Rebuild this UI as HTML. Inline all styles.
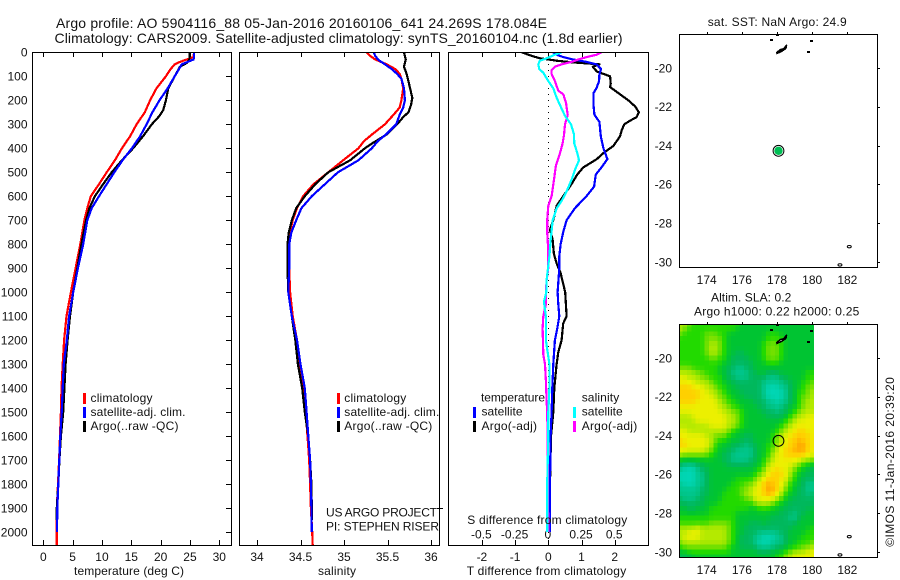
<!DOCTYPE html>
<html lang="en">
<head>
<meta charset="utf-8">
<title>Argo profile 5904116_88</title>
<style>
html,body{margin:0;padding:0;background:#fff;}
svg{display:block;}
text{font-family:"Liberation Sans",sans-serif;font-size:12px;fill:#111;}
.t{font-size:14px;}
</style>
</head>
<body>
<svg id="fig" xmlns="http://www.w3.org/2000/svg" width="900" height="580" viewBox="0 0 900 580">
<defs>
<clipPath id="clip-t"><rect x="32" y="52" width="200" height="494"/></clipPath>
<clipPath id="clip-s"><rect x="239" y="52" width="201" height="494"/></clipPath>
<clipPath id="clip-d"><rect x="448" y="52" width="201" height="494"/></clipPath>
<clipPath id="clip-m"><rect x="679" y="324" width="135" height="233"/></clipPath>
</defs>
<text class="t" x="56" y="28" textLength="491" lengthAdjust="spacing">Argo profile: AO 5904116_88 05-Jan-2016 20160106_641 24.269S 178.084E</text>
<text class="t" x="54.5" y="43" textLength="568" lengthAdjust="spacing">Climatology: CARS2009. Satellite-adjusted climatology: synTS_20160104.nc (1.8d earlier)</text>
<g id="plots"></g>

<text x="74" y="575" textLength="110" lengthAdjust="spacing">temperature (deg C)</text>
<text x="318" y="575" textLength="38" lengthAdjust="spacing">salinity</text>
<text x="466.7" y="575" textLength="159.5" lengthAdjust="spacing">T difference from climatology</text>
<text x="467.3" y="524" textLength="160" lengthAdjust="spacing">S difference from climatology</text>

<g>
<rect x="83" y="393" width="3" height="11" fill="#f00"/>
<rect x="83" y="407" width="3" height="11" fill="#00f"/>
<rect x="83" y="421" width="3" height="11" fill="#000"/>
<text x="90.5" y="402" textLength="62" lengthAdjust="spacing">climatology</text>
<text x="90.5" y="416" textLength="95" lengthAdjust="spacing">satellite-adj. clim.</text>
<text x="90.5" y="430" textLength="88" lengthAdjust="spacing">Argo(..raw -QC)</text>
</g>
<g>
<rect x="337" y="393" width="3" height="11" fill="#f00"/>
<rect x="337" y="407" width="3" height="11" fill="#00f"/>
<rect x="337" y="421" width="3" height="11" fill="#000"/>
<text x="344.3" y="402" textLength="62" lengthAdjust="spacing">climatology</text>
<text x="344.3" y="416" textLength="95" lengthAdjust="spacing">satellite-adj. clim.</text>
<text x="344.3" y="430" textLength="88" lengthAdjust="spacing">Argo(..raw -QC)</text>
</g>
<text x="326" y="516.5" textLength="111" lengthAdjust="spacing">US ARGO PROJECT</text>
<line x1="437" y1="508.5" x2="443" y2="508.5" stroke="#000" stroke-width="1" shape-rendering="crispEdges"/>
<text x="326" y="530.5" textLength="113" lengthAdjust="spacing">PI: STEPHEN RISER</text>

<g>
<text x="481" y="401.7" textLength="64" lengthAdjust="spacing">temperature</text>
<rect x="473" y="407" width="3" height="11" fill="#00f"/>
<text x="481.5" y="415.7" textLength="41" lengthAdjust="spacing">satellite</text>
<rect x="473" y="421" width="3" height="11" fill="#000"/>
<text x="481.5" y="430" textLength="55.5" lengthAdjust="spacing">Argo(-adj)</text>
<text x="581.7" y="401.7" textLength="37.5" lengthAdjust="spacing">salinity</text>
<rect x="573" y="407" width="3" height="11" fill="#0ff"/>
<text x="581.7" y="415.7" textLength="41" lengthAdjust="spacing">satellite</text>
<rect x="573" y="421" width="3" height="11" fill="#f0f"/>
<text x="581.7" y="430" textLength="55.5" lengthAdjust="spacing">Argo(-adj)</text>
</g>

<text x="707.7" y="26" textLength="139" lengthAdjust="spacing">sat. SST: NaN Argo: 24.9</text>
<text x="711" y="301.7" textLength="80.3" lengthAdjust="spacing">Altim. SLA: 0.2</text>
<text x="694" y="315.7" textLength="165.3" lengthAdjust="spacing">Argo h1000: 0.22 h2000: 0.25</text>
<text transform="translate(894,546.7) rotate(-90)" textLength="169.5" lengthAdjust="spacing">©IMOS 11-Jan-2016 20:39:20</text>
</svg>

<script>
// ---------- chart data ----------
const depthTicks = [0,100,200,300,400,500,600,700,800,900,1000,1100,1200,1300,1400,1500,1600,1700,1800,1900,2000];
const tempTicks = [0,5,10,15,20,25,30];
const salTicks = [34,34.5,35,35.5,36];
const salTickLabels = ['34','34.5','35','35.5','36'];
const tDiffTicks = [-2,-1,0,1,2];
const sDiffTicks = [-0.5,-0.25,0,0.25,0.5];
const sDiffTickLabels = ['-0.5','-0.25','0','0.25','0.5'];
const lonTicks = [174,176,178,180,182];
const latTicks = [-20,-22,-24,-26,-28,-30];

const tempClimDepth = [0,20,40,50,70,100,150,200,250,300,350,400,450,500,550,600,650,700,800,900,1000,1100,1200,1300,1400,1500,1600,1700,1800,1900,2000,2055];
const tempClim = [25.7,25.6,23.3,22.4,21.7,20.9,19.3,18.2,17.3,15.9,14.8,13.4,12.2,10.8,9.5,8.1,7.5,7.0,6.3,5.5,4.7,3.95,3.55,3.3,3.1,3.0,2.85,2.7,2.5,2.3,2.3,2.3];
const tempSatDepth = [0,20,30,50,100,150,200,250,300,350,400,450,500,550,600,650,700,800,900,1000,1100,1200,1300,1400,1500,1600,1700,1800,1900,2000];
const tempSat = [25.7,25.7,25.6,23.6,22.4,21.2,19.8,18.6,17.6,16.5,15.1,13.5,12.1,10.8,9.5,8.25,7.5,6.8,5.9,5.1,4.4,4.0,3.5,3.3,3.13,2.9,2.73,2.56,2.39,2.33];
const tempArgoDepth = [0,30,45,60,100,150,200,240,265,300,350,400,450,500,550,600,650,700,800,900,1000,1100,1200,1300,1400,1500,1600,1700,1800,1900,1950];
const tempArgo = [24.9,24.9,24.4,23.3,22.4,21.3,20.9,20.45,19.8,18.5,17.0,15.3,13.4,11.65,10.2,8.8,7.85,7.3,6.5,5.8,5.1,4.55,4.15,3.8,3.6,3.4,3.0,2.75,2.55,2.3,2.3];

const salClimDepth = [0,15,30,50,70,90,110,150,200,230,260,300,340,370,400,450,500,550,600,650,700,750,800,900,1000,1100,1200,1300,1400,1500,1600,1700,1800,1900,2000,2055];
const salClim = [35.26,35.3,35.36,35.49,35.59,35.64,35.66,35.68,35.66,35.64,35.57,35.47,35.33,35.23,35.165,34.99,34.82,34.65,34.53,34.46,34.41,34.38,34.36,34.37,34.38,34.41,34.46,34.49,34.53,34.56,34.58,34.6,34.61,34.62,34.635,34.64];
const salSatDepth = [0,15,30,50,70,90,110,150,200,230,260,300,340,370,400,450,500,550,600,650,700,750,800,900,1000,1100,1200,1300,1400,1500,1600,1700,1800,1900,2000];
const salSat = [35.34,35.36,35.39,35.47,35.55,35.61,35.66,35.69,35.7,35.68,35.64,35.6,35.49,35.39,35.32,35.165,34.93,34.78,34.63,34.51,34.45,34.395,34.37,34.37,34.36,34.4,34.46,34.5,34.55,34.57,34.59,34.61,34.62,34.625,34.63];
const salArgoDepth = [0,15,30,60,90,120,150,190,220,250,270,300,340,385,400,450,500,550,600,650,700,750,800,900,1000,1100,1200,1300,1400,1500,1600,1700,1800,1900,1950];
const salArgo = [35.69,35.7,35.71,35.69,35.72,35.74,35.76,35.785,35.77,35.74,35.68,35.61,35.5,35.3,35.24,35.07,34.82,34.67,34.55,34.45,34.4,34.365,34.35,34.35,34.36,34.4,34.44,34.47,34.52,34.55,34.59,34.61,34.625,34.63,34.63];

const tDiffSatDepth = [0,10,20,30,40,50,70,90,120,150,170,220,260,290,350,400,445,480,510,560,600,650,700,750,800,850,900,1000,1050,1100,1150,1200,1300,1400,1500,1600,1800,2000];
const tDiffSat = [0.15,0.25,0.45,0.75,1.15,1.45,1.59,1.54,1.53,1.45,1.36,1.36,1.39,1.54,1.58,1.66,1.78,1.6,1.43,1.38,1.15,0.8,0.55,0.45,0.37,0.33,0.33,0.28,0.3,0.33,0.27,0.2,0.15,0.12,0.1,0.07,0.05,0.05];
const tDiffArgoDepth = [0,5,15,25,35,42,50,60,80,100,130,145,170,200,225,250,270,285,300,325,350,390,420,445,480,510,550,600,640,690,740,780,840,880,920,1000,1050,1100,1130,1200,1250,1300,1400,1500,1600,1800,1950];
const tDiffArgo = [-0.8,-0.7,-0.5,-0.25,0.25,0.75,1.54,1.34,1.46,1.86,1.88,1.86,2.11,2.41,2.61,2.73,2.66,2.46,2.29,2.21,2.16,1.96,1.66,1.46,1.05,0.87,0.7,0.45,0.25,0.17,0.05,0.13,0.17,0.25,0.37,0.51,0.53,0.55,0.45,0.4,0.3,0.25,0.18,0.15,0.08,0.05,0.03];
const sDiffSatDepth = [0,10,25,35,50,70,85,120,150,190,220,265,300,340,380,420,450,490,530,580,620,650,700,780,850,950,1000,1040,1100,1200,1300,1400,1500,1600,1800,2000];
const sDiffSat = [0.1,0.05,-0.013,-0.063,-0.075,-0.068,-0.038,0,0.038,0.063,0.088,0.126,0.171,0.193,0.196,0.218,0.231,0.2,0.176,0.138,0.1,0.063,0.033,0.018,0.008,-0.013,-0.015,-0.033,-0.018,-0.018,0.008,0.008,0,0,-0.008,-0.008];
const sDiffArgoDepth = [0,10,20,30,40,50,60,75,90,120,160,175,210,260,300,345,380,420,470,530,600,640,700,750,830,900,950,1000,1050,1100,1150,1260,1300,1370,1450,1500,1600,2000];
const sDiffArgo = [0.4,0.364,0.289,0.226,0.176,0.1,0.05,0.025,0.025,0.05,0.075,0.113,0.133,0.146,0.126,0.118,0.108,0.088,0.058,0.043,0.025,0,-0.008,-0.008,0,0,-0.013,-0.018,-0.018,-0.038,-0.043,-0.038,-0.025,-0.018,-0.013,-0.008,-0.005,0];

const argoLon = 178.084;
const argoLat = -24.269;
const fijiLon = [177.98,178.2,178.4,178.55,178.5,178.25,178.0];
const fijiLat = [-19.2,-19.05,-19.0,-18.8,-19.0,-19.15,-19.25];
const islandLon = [177.64,177.98,179.92,179.75];
const islandLat = [-18.56,-18.3,-18.59,-19.16];
const atollLon = [182.11,181.58];
const atollLat = [-29.21,-30.15];

const slaLevelColors = ['#00d6b4','#00c68c','#00b85c','#00c432','#22da00','#72e000','#b4ea00','#ecf000','#ffd000','#ffa400'];
const slaStartLon = 172.5;
const slaStartLat = -18.25;
const slaStep = 0.25;
const slaGrid = [
[6,6,5,4,4,4,4,4,4,4,4,4,4,4,3,3,3,3,3,3,3,3,3,3,3,3,3,3,3,3,3],
[6,5,4,4,4,4,4,4,4,4,4,4,4,3,3,3,3,3,3,3,3,3,3,3,3,3,3,3,3,3,3],
[5,4,4,4,4,4,5,5,5,4,4,3,3,3,3,3,3,3,3,3,4,4,4,3,3,3,3,3,3,3,3],
[4,4,4,4,4,4,5,5,5,5,4,3,3,3,3,3,3,3,3,3,4,4,4,4,3,3,3,3,3,3,3],
[4,4,4,4,4,4,5,6,6,5,4,3,3,3,3,3,3,3,3,4,5,5,5,4,3,3,3,3,3,3,3],
[4,4,4,4,4,4,5,6,6,5,4,3,3,3,3,3,3,3,3,4,5,5,5,4,3,3,3,3,3,3,3],
[4,4,4,4,4,4,5,6,6,5,4,3,3,2,2,3,3,3,3,4,5,5,5,4,3,3,3,3,3,3,3],
[4,4,4,4,4,4,4,5,5,4,4,3,2,2,2,2,3,3,3,4,5,5,5,4,3,3,3,3,3,3,3],
[4,4,4,4,4,4,4,4,4,4,3,3,2,2,2,2,2,3,3,3,4,4,4,3,3,3,3,3,3,3,3],
[5,5,5,4,4,4,4,4,4,3,3,2,2,1,1,2,2,3,3,3,3,3,3,3,3,3,3,3,3,3,3],
[6,6,6,6,5,5,4,4,4,3,3,2,1,1,1,1,2,2,3,3,2,2,2,3,3,3,3,3,3,4,4],
[7,7,6,6,6,5,5,4,4,4,3,2,2,1,1,1,2,2,2,2,1,1,1,2,2,3,3,3,3,4,4],
[7,7,7,7,6,6,6,5,4,4,3,3,2,2,2,2,2,2,2,1,1,1,1,1,2,2,3,3,4,4,5],
[8,8,8,7,7,7,6,6,5,4,4,3,3,2,2,2,2,2,2,1,0,0,0,1,1,2,3,3,4,5,5],
[8,8,8,8,8,7,7,6,6,5,4,3,3,3,2,2,2,2,2,1,0,0,0,0,1,2,3,4,4,5,6],
[8,8,8,8,8,7,7,7,6,5,5,4,3,3,3,2,2,2,2,1,0,0,0,0,1,2,3,4,5,5,6],
[8,8,8,8,7,7,7,7,7,6,5,4,4,3,3,3,3,2,2,2,1,1,0,1,1,2,3,4,5,6,6],
[7,7,7,7,7,7,7,7,7,6,6,5,4,4,3,3,3,3,2,2,1,1,1,1,2,3,3,4,5,6,6],
[7,7,7,7,7,7,7,7,7,7,6,6,5,5,4,3,3,3,3,2,2,2,1,2,2,3,4,5,6,6,6],
[6,6,6,7,7,7,7,7,7,7,7,6,6,5,4,3,3,3,3,3,2,2,2,2,3,4,5,6,6,7,7],
[6,6,6,6,7,7,7,7,7,7,7,6,6,5,4,3,3,3,3,3,3,3,3,3,4,5,6,7,7,7,7],
[6,6,6,6,6,6,6,7,7,7,7,6,6,5,4,3,3,3,3,3,3,3,3,4,5,6,7,7,7,7,7],
[7,7,6,6,6,6,6,6,6,6,6,5,4,3,3,3,3,3,3,3,3,3,4,5,6,7,7,8,8,7,7],
[7,7,7,7,7,7,6,6,5,5,5,4,3,3,3,2,2,3,3,3,3,4,5,6,7,7,8,8,8,8,7],
[8,7,7,7,7,7,7,6,5,4,4,3,3,3,2,2,2,3,3,3,3,4,5,6,7,8,8,9,8,8,7],
[8,8,7,7,7,7,7,6,4,3,3,3,2,2,2,1,2,2,3,3,4,4,6,7,7,8,8,9,9,8,7],
[7,7,7,7,7,7,6,5,4,3,3,2,2,1,1,1,1,2,3,3,4,5,6,7,8,8,9,9,9,8,7],
[6,5,5,5,5,5,5,4,3,3,2,2,1,1,1,1,1,2,3,3,4,6,7,7,8,8,8,8,8,7,7],
[3,3,3,3,3,3,3,3,3,3,2,2,1,1,1,1,2,2,3,4,5,6,7,7,7,7,7,7,6,6,5],
[2,1,1,1,2,2,3,3,3,3,3,2,2,2,2,2,2,3,3,4,6,7,7,7,7,7,6,5,4,3,3],
[1,0,0,0,1,2,2,3,3,3,3,3,3,3,3,3,3,3,4,5,7,7,8,7,7,6,5,4,3,3,2],
[0,0,0,0,1,1,2,3,3,3,3,3,3,3,3,3,3,4,5,6,7,8,8,8,7,6,4,3,3,2,2],
[0,0,0,0,1,1,2,3,3,3,3,3,3,4,4,4,4,5,6,7,8,8,8,7,7,5,4,3,2,2,2],
[1,0,0,0,1,1,2,3,3,3,3,3,4,4,4,5,5,6,7,8,9,8,8,7,6,4,3,3,2,1,1],
[1,1,1,1,1,2,2,3,3,3,3,4,4,4,5,5,6,7,7,8,9,9,8,7,5,4,3,2,2,1,1],
[1,1,1,1,1,2,2,3,3,3,4,4,4,4,5,6,6,7,7,8,9,8,7,6,4,3,3,2,2,1,2],
[2,1,1,1,2,2,3,3,3,3,4,4,4,4,4,5,5,7,7,7,7,7,6,5,3,3,2,2,2,2,2],
[2,2,2,2,2,2,3,3,3,4,4,4,4,4,4,4,4,5,6,6,6,5,4,3,3,2,2,2,2,2,2],
[3,3,2,2,3,3,3,4,4,4,4,4,4,4,4,4,3,3,4,4,4,3,3,3,2,2,2,2,2,2,3],
[3,3,3,3,3,3,3,4,4,4,4,4,4,3,3,3,3,3,3,3,3,3,3,2,2,2,1,2,2,3,3],
[4,4,4,4,4,4,4,4,4,4,4,4,4,3,3,3,3,3,3,3,3,2,2,2,2,1,1,2,3,3,3],
[4,4,4,4,4,4,4,5,5,5,5,5,4,3,3,3,2,2,2,3,2,2,2,2,2,2,2,3,3,3,3],
[6,6,6,6,7,6,6,6,6,6,6,5,4,3,3,2,2,2,2,2,2,2,2,2,2,2,3,3,3,3,4],
[6,6,7,7,7,6,6,6,6,6,6,5,4,3,3,2,2,2,1,1,1,1,1,2,2,3,3,3,3,4,4],
[6,7,7,7,7,6,6,6,6,6,6,5,4,3,2,2,2,1,1,0,0,0,1,1,2,3,3,3,4,4,4],
[5,6,6,6,6,6,6,6,6,6,6,5,4,3,2,2,2,1,0,0,0,1,1,1,2,3,3,4,4,4,5],
[4,5,5,5,5,5,5,5,5,5,5,4,3,3,2,2,2,2,1,1,1,1,2,2,3,3,4,4,5,5,6],
[3,3,4,4,4,4,4,4,4,4,4,4,3,3,3,3,3,3,2,2,2,3,3,3,4,5,6,6,6,7,7],
[2,2,2,3,3,3,3,3,3,3,3,3,3,3,3,3,3,3,3,3,3,3,4,4,6,6,7,7,7,7,7]
];

// ---------- axis functions ----------
const NS = 'http://www.w3.org/2000/svg';
const plots = document.getElementById('plots');
const yDepth = d => 52.3 + d * 0.2399;
const xTemp = v => 43.3 + v * 5.867;
const xSal = v => 257 + (v - 34) * 87;
const xTDiff = v => 548.3 + v * 33.2;
const xSDiff = v => 548.3 + v * 132.8;
const xLon = v => 706.7 + (v - 174) * 17.58;
const yLatTop = v => 68 + (-20 - v) * 19.4;
const yLatBottom = v => 358 + (-20 - v) * 19.4;

function add(tag, name, attrs, parent) {
  const el = document.createElementNS(NS, tag);
  
  
  Object.keys(attrs).forEach(k => el.setAttribute(k, attrs[k]));
  (parent || plots).appendChild(el);
  return el;
}
function hline(name, x1, x2, y) {
  return add('line', name, {x1: x1, x2: x2, y1: Math.round(y) + 0.5, y2: Math.round(y) + 0.5, stroke: '#000', 'stroke-width': 1, 'shape-rendering': 'crispEdges'});
}
function vline(name, x, y1, y2) {
  return add('line', name, {x1: Math.round(x) + 0.5, x2: Math.round(x) + 0.5, y1: y1, y2: y2, stroke: '#000', 'stroke-width': 1, 'shape-rendering': 'crispEdges'});
}
function label(name, str, x, y, anchor) {
  const el = add('text', name, {x: x, y: y, 'text-anchor': anchor || 'middle'});
  el.textContent = str;
  return el;
}
function frame(name, x, y, w, h) {
  return add('rect', name, {x: x, y: y, width: w, height: h, fill: 'none', stroke: '#000', 'stroke-width': 1, 'shape-rendering': 'crispEdges'});
}
function series(name, xs, depths, xf, color, clip) {
  const pts = xs.map((v, i) => xf(v).toFixed(1) + ',' + yDepth(depths[i]).toFixed(1)).join(' ');
  return add('polyline', name, {points: pts, fill: 'none', stroke: color, 'stroke-width': 2.2, 'stroke-linejoin': 'round', 'shape-rendering': 'crispEdges', 'clip-path': 'url(#' + clip + ')'});
}

// ---------- profile panels ----------
depthTicks.forEach(d => {
  hline('temperature-right-tick', 226, 231, yDepth(d));
  label('depth-tick-label', String(d), 27.5, yDepth(d) + 4.3, 'end');
});
tempTicks.forEach(t => {
  vline('temperature-top-tick', xTemp(t), 52, 57);
  vline('temperature-bottom-tick', xTemp(t), 540, 545);
  label('temperature-tick-label', String(t), xTemp(t), 561);
});
salTicks.forEach((s, i) => {
  vline('salinity-top-tick', xSal(s), 52, 57);
  vline('salinity-bottom-tick', xSal(s), 540, 545);
  label('salinity-tick-label', salTickLabels[i], xSal(s), 561);
});
tDiffTicks.forEach(t => {
  vline('t-diff-top-tick', xTDiff(t), 52, 57);
  vline('t-diff-bottom-tick', xTDiff(t), 540, 545);
  label('t-diff-tick-label', String(t), xTDiff(t), 561);
});
sDiffTicks.forEach((s, i) => {
  label('s-diff-tick-label', sDiffTickLabels[i], xSDiff(s) - 0.5, 538.7);
});

series('temperature-climatology-line', tempClim, tempClimDepth, xTemp, '#f00', 'clip-t');
series('temperature-argo-line', tempArgo, tempArgoDepth, xTemp, '#000', 'clip-t');
series('temperature-satellite-line', tempSat, tempSatDepth, xTemp, '#00f', 'clip-t');

series('salinity-climatology-line', salClim, salClimDepth, xSal, '#f00', 'clip-s');
series('salinity-argo-line', salArgo, salArgoDepth, xSal, '#000', 'clip-s');
series('salinity-satellite-line', salSat, salSatDepth, xSal, '#00f', 'clip-s');

add('line', 'zero-difference-line', {x1: 548.5, x2: 548.5, y1: 52, y2: 545, stroke: '#000', 'stroke-width': 1, 'stroke-dasharray': '1 5', 'shape-rendering': 'crispEdges'});
series('t-diff-argo-line', tDiffArgo, tDiffArgoDepth, xTDiff, '#000', 'clip-d');
series('t-diff-satellite-line', tDiffSat, tDiffSatDepth, xTDiff, '#00f', 'clip-d');
series('s-diff-argo-line', sDiffArgo, sDiffArgoDepth, xSDiff, '#f0f', 'clip-d');
series('s-diff-satellite-line', sDiffSat, sDiffSatDepth, xSDiff, '#0ff', 'clip-d');

frame('temperature-panel-frame', 32.5, 52.5, 199, 493);
frame('salinity-panel-frame', 239.5, 52.5, 200, 493);
frame('difference-panel-frame', 448.5, 52.5, 200, 493);

// ---------- maps ----------
function mapAxes(prefix, yLat, top, bottom) {
  lonTicks.forEach(l => {
    vline(prefix + '-top-tick', xLon(l), top - 2, top);
    label(prefix + '-lon-label', String(l), xLon(l), bottom + 17);
  });
  latTicks.forEach(l => {
    hline(prefix + '-right-tick', 878, 880, yLat(l));
    label(prefix + '-lat-label', '-' + String(Math.abs(l)), 672, yLat(l) + 4.3, 'end');
  });
  frame(prefix + '-frame', 679.5, top + 0.5, 198, bottom - top);
}
function drawIslands(prefix, yLat, fijiFill) {
  const pts = fijiLon.map((v, i) => xLon(v).toFixed(1) + ',' + yLat(fijiLat[i]).toFixed(1)).join(' ');
  add('polygon', prefix + '-fiji-island', {points: pts, fill: fijiFill, stroke: '#000', 'stroke-width': 1.5, 'shape-rendering': 'crispEdges'});
  islandLon.forEach((v, i) => {
    add('rect', prefix + '-island', {x: Math.round(xLon(v)) - 1, y: Math.round(yLat(islandLat[i])) - 1, width: 3, height: 2, fill: '#000', 'shape-rendering': 'crispEdges'});
  });
  atollLon.forEach((v, i) => {
    add('ellipse', prefix + '-atoll', {cx: xLon(v), cy: yLat(atollLat[i]), rx: 2, ry: 1.2, fill: '#fff', stroke: '#000', 'stroke-width': 1});
  });
}

// SST map
drawIslands('sst-map', yLatTop, '#000');
add('circle', 'sst-argo-position-ring', {cx: xLon(argoLon), cy: yLatTop(argoLat), r: 5.4, fill: '#fff', stroke: '#000', 'stroke-width': 1});
add('circle', 'sst-argo-position-marker', {cx: xLon(argoLon), cy: yLatTop(argoLat), r: 4.2, fill: '#00bf55'});
mapAxes('sst-map', yLatTop, 34, 267);

// SLA heat map: level colours blend continuously and each cell is lightly blended with its neighbours when painted
function hexRgb(h) {
  return [parseInt(h.slice(1, 3), 16), parseInt(h.slice(3, 5), 16), parseInt(h.slice(5, 7), 16)];
}
function levelColor(v) {
  const t = Math.max(0, Math.min(slaLevelColors.length - 1, v));
  const i = Math.min(slaLevelColors.length - 2, Math.floor(t));
  const a = hexRgb(slaLevelColors[i]);
  const b = hexRgb(slaLevelColors[i + 1]);
  const f = t - i;
  return 'rgb(' + a.map((x, k) => Math.round(x + (b[k] - x) * f)).join(',') + ')';
}
function paintedLevel(r, c) {
  let sum = 0;
  let wt = 0;
  for (let dr = -1; dr <= 1; dr++) {
    for (let dc = -1; dc <= 1; dc++) {
      const row = slaGrid[r + dr];
      if (!row || row[c + dc] === undefined) continue;
      const w = (dr === 0 ? 3 : 1) * (dc === 0 ? 3 : 1);
      sum += row[c + dc] * w;
      wt += w;
    }
  }
  return sum / wt;
}
const slaGroup = add('g', 'sla-heatmap', {'clip-path': 'url(#clip-m)'});
const cw = slaStep * 17.58;
const ch = slaStep * 19.4;
slaGrid.forEach((row, r) => {
  row.forEach((level, c) => {
    const lon = slaStartLon + c * slaStep;
    const lat = slaStartLat - r * slaStep;
    const cell = add('rect', 'sla-cell', {x: (xLon(lon) - cw / 2).toFixed(1), y: (yLatBottom(lat) - ch / 2).toFixed(1), width: (cw + 0.4).toFixed(1), height: (ch + 0.4).toFixed(1), fill: levelColor(paintedLevel(r, c)), 'shape-rendering': 'crispEdges'}, slaGroup);
    cell.setAttribute('data-level', level);
  });
});
drawIslands('sla-map', yLatBottom, '#fff');
add('circle', 'sla-argo-position-marker', {cx: xLon(argoLon), cy: yLatBottom(argoLat), r: 5.4, fill: 'none', stroke: '#000', 'stroke-width': 1});
mapAxes('sla-map', yLatBottom, 324, 557);
</script>
</body>
</html>
